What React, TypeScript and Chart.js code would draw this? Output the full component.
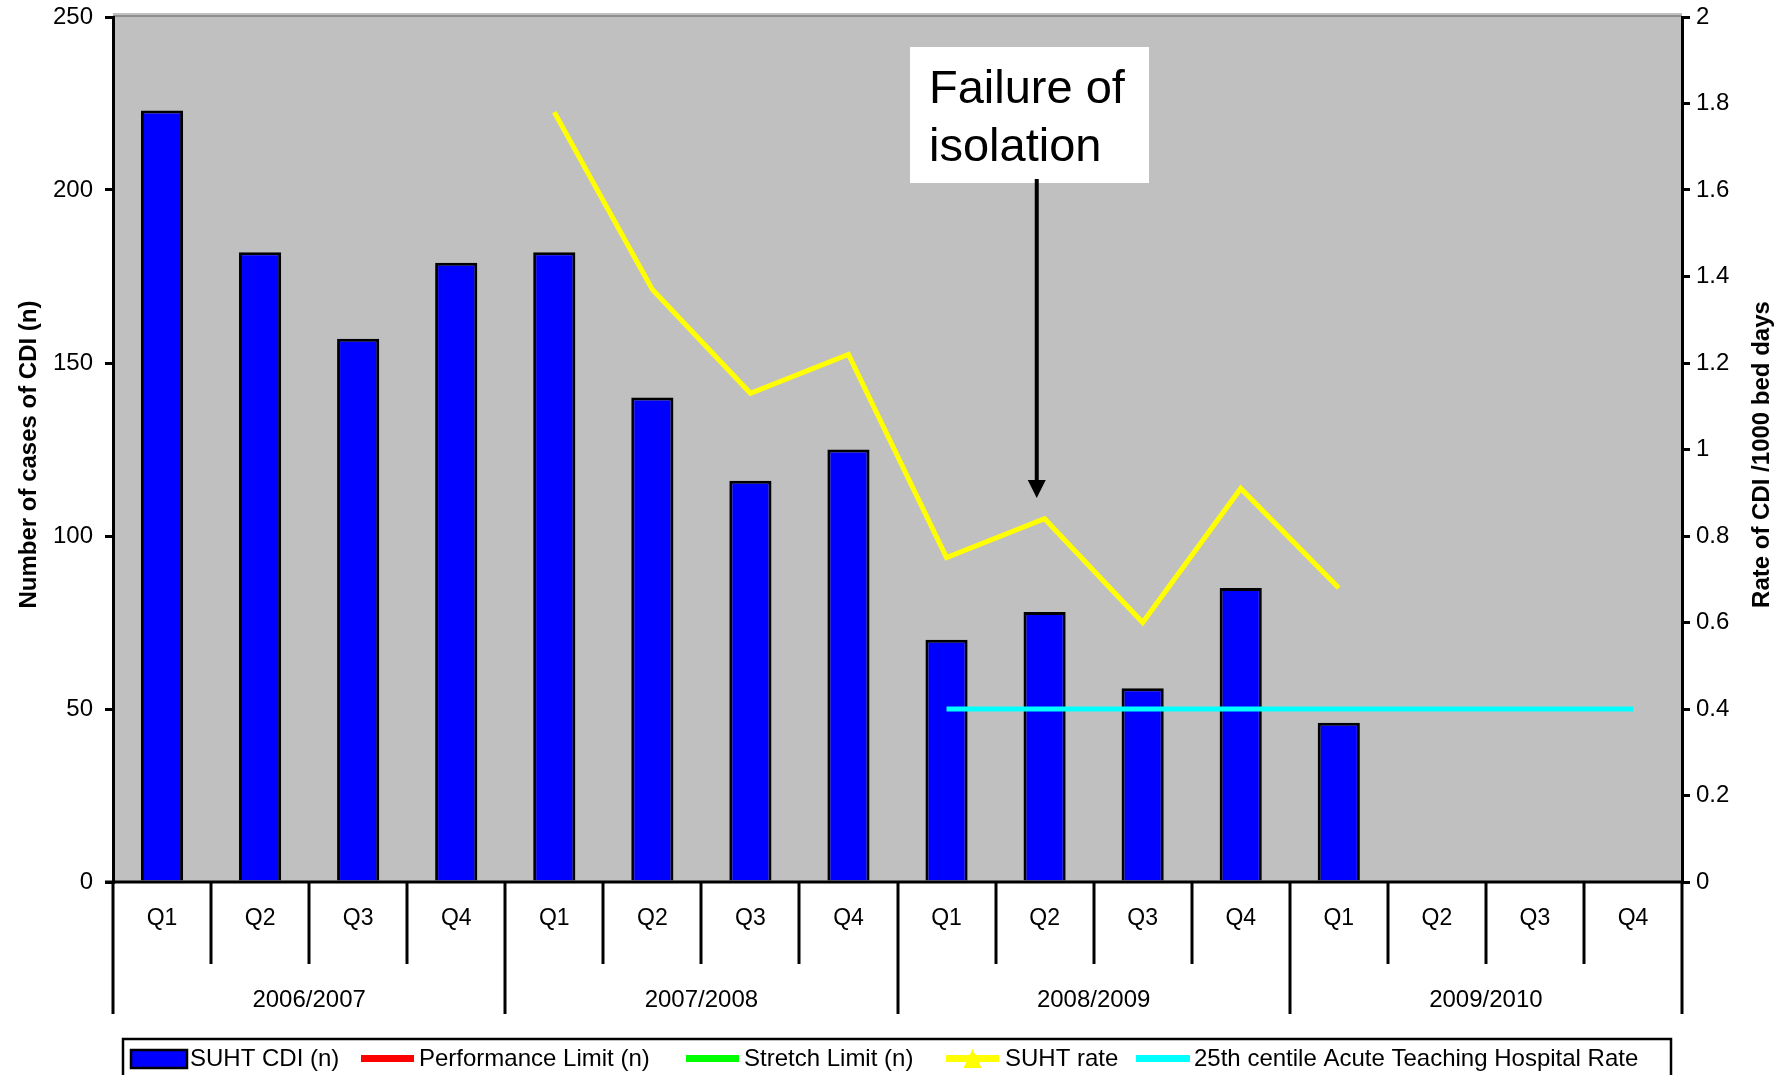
import React, { useEffect, useRef } from 'react';
import { Chart, registerables } from 'chart.js';

Chart.register(...registerables);

const quarters = ['Q1', 'Q2', 'Q3', 'Q4', 'Q1', 'Q2', 'Q3', 'Q4', 'Q1', 'Q2', 'Q3', 'Q4', 'Q1', 'Q2', 'Q3', 'Q4'];
const years = ['2006/2007', '2007/2008', '2008/2009', '2009/2010'];

const suhtCdi = [223, 182, 157, 179, 182, 140, 116, 125, 70, 78, 56, 85, 46, null, null, null];
const performanceLimit = [null, null, null, null, null, null, null, null, null, null, null, null, null, null, null, null];
const stretchLimit = [null, null, null, null, null, null, null, null, null, null, null, null, null, null, null, null];
const suhtRate = [null, null, null, null, 1.78, 1.37, 1.13, 1.22, 0.75, 0.84, 0.6, 0.91, 0.68, null, null, null];
const centile25Rate = [null, null, null, null, null, null, null, null, 0.4, 0.4, 0.4, 0.4, 0.4, 0.4, 0.4, 0.4];

const leftTicks = { min: 0, max: 250, step: 50 };
const rightTicks = { min: 0, max: 2, step: 0.2 };

const leftTitle = 'Number of cases of CDI (n)';
const rightTitle = 'Rate of CDI /1000 bed days';
const annotationLines = ['Failure of', 'isolation'];
const annotationIndex = 8.92;
const annotationValue = 111;

const FONT = '"Liberation Sans", Arial, Helvetica, sans-serif';

const overlayPlugin = {
  id: 'overlay',
  beforeDraw(chart: any) {
    const { ctx, chartArea: a } = chart;
    ctx.save();
    ctx.fillStyle = '#c0c0c0';
    ctx.fillRect(a.left, a.top - 4, a.right - a.left, a.bottom - a.top + 4);
    ctx.strokeStyle = '#8f8f8f';
    ctx.lineWidth = 2;
    ctx.beginPath();
    ctx.moveTo(a.left, a.top - 1);
    ctx.lineTo(a.right, a.top - 1);
    ctx.stroke();
    ctx.restore();
  },
  afterDraw(chart: any) {
    const { ctx, chartArea: a } = chart;
    const xs = chart.scales.x;
    const ys = chart.scales.y;
    const base = a.bottom;
    ctx.save();

    // bottom axis line
    ctx.strokeStyle = '#000';
    ctx.lineWidth = 3;
    ctx.beginPath();
    ctx.moveTo(a.left - 8, base);
    ctx.lineTo(a.right, base);
    ctx.stroke();

    // category separators
    for (let i = 0; i <= quarters.length; i++) {
      const x = Math.round(xs.getPixelForValue(i - 0.5));
      const isYear = i % 4 === 0;
      ctx.beginPath();
      ctx.moveTo(x, base);
      ctx.lineTo(x, base + (isYear ? 132 : 82));
      ctx.stroke();
    }

    ctx.fillStyle = '#000';
    ctx.font = `23px ${FONT}`;
    ctx.textAlign = 'center';
    ctx.textBaseline = 'middle';
    quarters.forEach((q, i) => ctx.fillText(q, xs.getPixelForValue(i), base + 37));
    ctx.font = `24px ${FONT}`;
    years.forEach((yr, j) => ctx.fillText(yr, xs.getPixelForValue(j * 4 + 1.5), base + 118));

    // axis titles
    ctx.font = `bold 24px ${FONT}`;
    const midY = (a.top + a.bottom) / 2 + 5;
    ctx.save();
    ctx.translate(29, midY);
    ctx.rotate(-Math.PI / 2);
    ctx.fillText(leftTitle, 0, 0);
    ctx.restore();
    ctx.save();
    ctx.translate(1762, midY);
    ctx.rotate(-Math.PI / 2);
    ctx.fillText(rightTitle, 0, 0);
    ctx.restore();

    // annotation box
    ctx.fillStyle = '#fff';
    ctx.fillRect(910, 47, 239, 136);
    ctx.fillStyle = '#000';
    ctx.font = `47px ${FONT}`;
    ctx.textAlign = 'left';
    ctx.textBaseline = 'alphabetic';
    ctx.fillText(annotationLines[0], 929, 103);
    ctx.fillText(annotationLines[1], 929, 161);

    // arrow
    const ax = xs.getPixelForValue(annotationIndex);
    const tipY = ys.getPixelForValue(annotationValue);
    ctx.strokeStyle = '#000';
    ctx.lineWidth = 4;
    ctx.beginPath();
    ctx.moveTo(ax, 179);
    ctx.lineTo(ax, tipY - 14);
    ctx.stroke();
    ctx.beginPath();
    ctx.moveTo(ax - 9, tipY - 18);
    ctx.lineTo(ax + 9, tipY - 18);
    ctx.lineTo(ax, tipY);
    ctx.closePath();
    ctx.fill();

    // legend
    ctx.strokeStyle = '#000';
    ctx.lineWidth = 2.5;
    ctx.strokeRect(123, 1039, 1548, 60);
    const ly = 1059;
    const ds = chart.data.datasets;
    ctx.font = `24px ${FONT}`;
    ctx.textBaseline = 'middle';
    ctx.textAlign = 'left';
    ctx.fillStyle = '#0000ff';
    ctx.fillRect(131, 1050, 56, 18);
    ctx.lineWidth = 2.5;
    ctx.strokeRect(131, 1050, 56, 18);
    ctx.fillStyle = '#000';
    ctx.fillText(ds[0].label, 190, ly);
    const lineItems = [
      { i: 1, x: 361, w: 53, tx: 419 },
      { i: 2, x: 686, w: 53, tx: 744 },
      { i: 3, x: 946, w: 53, tx: 1005 },
      { i: 4, x: 1136, w: 54, tx: 1194 },
    ];
    lineItems.forEach((it) => {
      ctx.fillStyle = ds[it.i].borderColor;
      ctx.fillRect(it.x, ly - 4, it.w, 7);
      if (it.i === 3) {
        const cx = it.x + it.w / 2;
        ctx.beginPath();
        ctx.moveTo(cx, ly - 10);
        ctx.lineTo(cx + 9, ly + 9);
        ctx.lineTo(cx - 9, ly + 9);
        ctx.closePath();
        ctx.fill();
      }
      ctx.fillStyle = '#000';
      ctx.fillText(ds[it.i].label, it.tx, ly);
    });

    ctx.restore();
  },
};

export default function App() {
  const ref = useRef<HTMLCanvasElement | null>(null);

  useEffect(() => {
    if (!ref.current) return;
    const chart = new Chart(ref.current, {
      type: 'bar',
      data: {
        labels: quarters,
        datasets: [
          {
            type: 'bar',
            label: 'SUHT CDI (n)',
            data: suhtCdi,
            backgroundColor: '#0000ff',
            borderColor: '#000000',
            borderWidth: 3,
            barPercentage: 0.43,
            categoryPercentage: 1,
            yAxisID: 'y',
            order: 2,
          },
          {
            type: 'line',
            label: 'Performance Limit (n)',
            data: performanceLimit,
            borderColor: '#ff0000',
            borderWidth: 5,
            pointRadius: 0,
            yAxisID: 'y',
            order: 1,
          },
          {
            type: 'line',
            label: 'Stretch Limit (n)',
            data: stretchLimit,
            borderColor: '#00ff00',
            borderWidth: 5,
            pointRadius: 0,
            yAxisID: 'y',
            order: 1,
          },
          {
            type: 'line',
            label: 'SUHT rate',
            data: suhtRate,
            borderColor: '#ffff00',
            borderWidth: 5,
            pointRadius: 0,
            yAxisID: 'y2',
            order: 0,
          },
          {
            type: 'line',
            label: '25th centile Acute Teaching Hospital Rate',
            data: centile25Rate,
            borderColor: '#00ffff',
            borderWidth: 5,
            pointRadius: 0,
            yAxisID: 'y2',
            order: 0,
          },
        ],
      } as any,
      options: {
        responsive: false,
        animation: false,
        devicePixelRatio: 1,
        layout: { padding: { top: 17, left: 0, right: 0, bottom: 0 } },
        plugins: { legend: { display: false }, tooltip: { enabled: false } },
        scales: {
          x: {
            type: 'category',
            offset: true,
            ticks: { display: false },
            grid: { display: false },
            border: { display: false },
            afterFit(s: any) {
              s.height = 193;
              s.paddingLeft = 0;
              s.paddingRight = 0;
            },
          },
          y: {
            position: 'left',
            min: leftTicks.min,
            max: leftTicks.max,
            ticks: { stepSize: leftTicks.step, color: '#000', font: { family: FONT, size: 24 }, padding: 12 },
            grid: { drawOnChartArea: false, color: '#000', lineWidth: 3, tickLength: 8 },
            border: { color: '#000', width: 3 },
            afterFit(s: any) {
              s.width = 113;
              s.paddingTop = 0;
              s.paddingBottom = 0;
            },
          },
          y2: {
            position: 'right',
            min: rightTicks.min,
            max: rightTicks.max,
            ticks: {
              stepSize: rightTicks.step,
              color: '#000',
              font: { family: FONT, size: 24 },
              padding: 6,
              callback: (v: any) => String(Number(Number(v).toFixed(1))),
            },
            grid: { drawOnChartArea: false, color: '#000', lineWidth: 3, tickLength: 8 },
            border: { color: '#000', width: 3 },
            afterFit(s: any) {
              s.width = 98;
              s.paddingTop = 0;
              s.paddingBottom = 0;
            },
          },
        },
      } as any,
      plugins: [overlayPlugin],
    });
    return () => chart.destroy();
  }, []);

  return (
    <div style={{ position: 'fixed', left: 0, top: 0, width: 1780, height: 1075, background: '#fff' }}>
      <canvas ref={ref} width={1780} height={1075} style={{ display: 'block' }} />
    </div>
  );
}
